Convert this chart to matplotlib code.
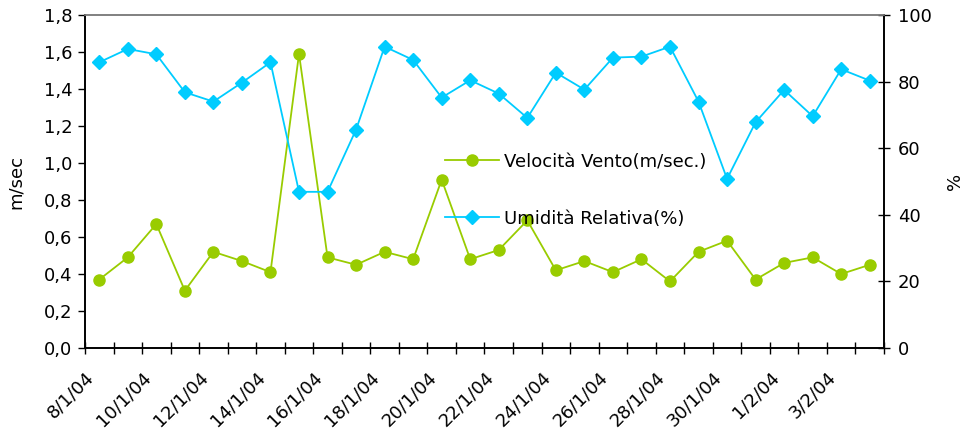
import matplotlib
matplotlib.use("Agg")
import matplotlib.pyplot as plt
from matplotlib.transforms import ScaledTranslation

plt.rcParams["font.family"] = ["DejaVu Sans"]

dates = [
    "8/1/04", "9/1/04", "10/1/04", "11/1/04", "12/1/04", "13/1/04", "14/1/04",
    "15/1/04", "16/1/04", "17/1/04", "18/1/04", "19/1/04", "20/1/04", "21/1/04",
    "22/1/04", "23/1/04", "24/1/04", "25/1/04", "26/1/04", "27/1/04", "28/1/04",
    "29/1/04", "30/1/04", "31/1/04", "1/2/04", "2/2/04", "3/2/04", "4/2/04",
]
vento = [
    0.37, 0.49, 0.67, 0.31, 0.52, 0.47, 0.41, 1.59, 0.49, 0.45, 0.52, 0.48,
    0.91, 0.48, 0.53, 0.69, 0.42, 0.47, 0.41, 0.48, 0.36, 0.52, 0.58, 0.37,
    0.46, 0.49, 0.40, 0.45,
]
umidita = [
    85.8, 89.8, 88.2, 76.8, 74.0, 79.7, 85.8, 46.9, 46.9, 65.6, 90.5, 86.5,
    75.2, 80.4, 76.4, 69.1, 82.7, 77.6, 87.2, 87.5, 90.5, 74.0, 50.8, 67.8,
    77.5, 69.6, 83.7, 80.3,
]
left_ticks = [0.0, 0.2, 0.4, 0.6, 0.8, 1.0, 1.2, 1.4, 1.6, 1.8]
left_labels = ["0,0", "0,2", "0,4", "0,6", "0,8", "1,0", "1,2", "1,4", "1,6", "1,8"]
right_ticks = [0, 20, 40, 60, 80, 100]

green = "#99CC00"
blue = "#00CCFF"

fig = plt.figure(figsize=(9.69, 4.36), dpi=100)
ax = fig.add_axes([0.0877, 0.2018, 0.8246, 0.7638])
ax2 = ax.twinx()

x = list(range(len(dates)))
l1, = ax.plot(x, vento, color=green, marker="o", markersize=8, linewidth=1.3,
              label="Velocità Vento(m/sec.)")
l2, = ax2.plot(x, umidita, color=blue, marker="D", markersize=7, linewidth=1.3,
               label="Umidità Relativa(%)")

ax.set_xlim(-0.5, len(dates) - 0.5)
ax.set_ylim(0, 1.8)
ax2.set_ylim(0, 100)

# category boundaries as major ticks, labels on every other category
ax.set_xticks([i - 0.5 for i in range(len(dates) + 1)])
ax.set_xticklabels([])
ax.tick_params(axis="x", which="major", direction="inout", length=8, width=1)
ax.set_xticks(x[::2], minor=True)
ax.set_xticklabels(dates[::2], minor=True, rotation=45, ha="right",
                   va="center", rotation_mode="anchor", fontsize=13)
ax.tick_params(axis="x", which="minor", length=0, pad=19)
shift = ScaledTranslation(-8 / 100, 0, fig.dpi_scale_trans)
for lbl in ax.xaxis.get_minorticklabels():
    lbl.set_transform(lbl.get_transform() + shift)

ax.set_yticks(left_ticks)
ax.set_yticklabels(left_labels, fontsize=13)
ax.tick_params(axis="y", direction="out", length=5, width=1, pad=4)
ax2.set_yticks(right_ticks)
ax2.set_yticklabels([str(t) for t in right_ticks], fontsize=13)
ax2.tick_params(axis="y", direction="inout", length=8, width=1, pad=6)

ax.set_ylabel("m/sec", fontsize=13, labelpad=14)
ax2.set_ylabel("%", fontsize=13, labelpad=10)

for a in (ax, ax2):
    a.spines["top"].set_color("#808080")
    a.spines["top"].set_linewidth(1.2)
    a.spines["left"].set_linewidth(1.2)
    a.spines["right"].set_linewidth(1.2)
    a.spines["bottom"].set_linewidth(1.2)

ax2.legend([l1, l2], [l1.get_label(), l2.get_label()], loc="upper left",
           bbox_to_anchor=(0.43, 0.635), frameon=False, fontsize=13,
           labelspacing=2.15, handlelength=3, handletextpad=0.3)

fig.savefig("out.png", dpi=100)
plt.close(fig)
